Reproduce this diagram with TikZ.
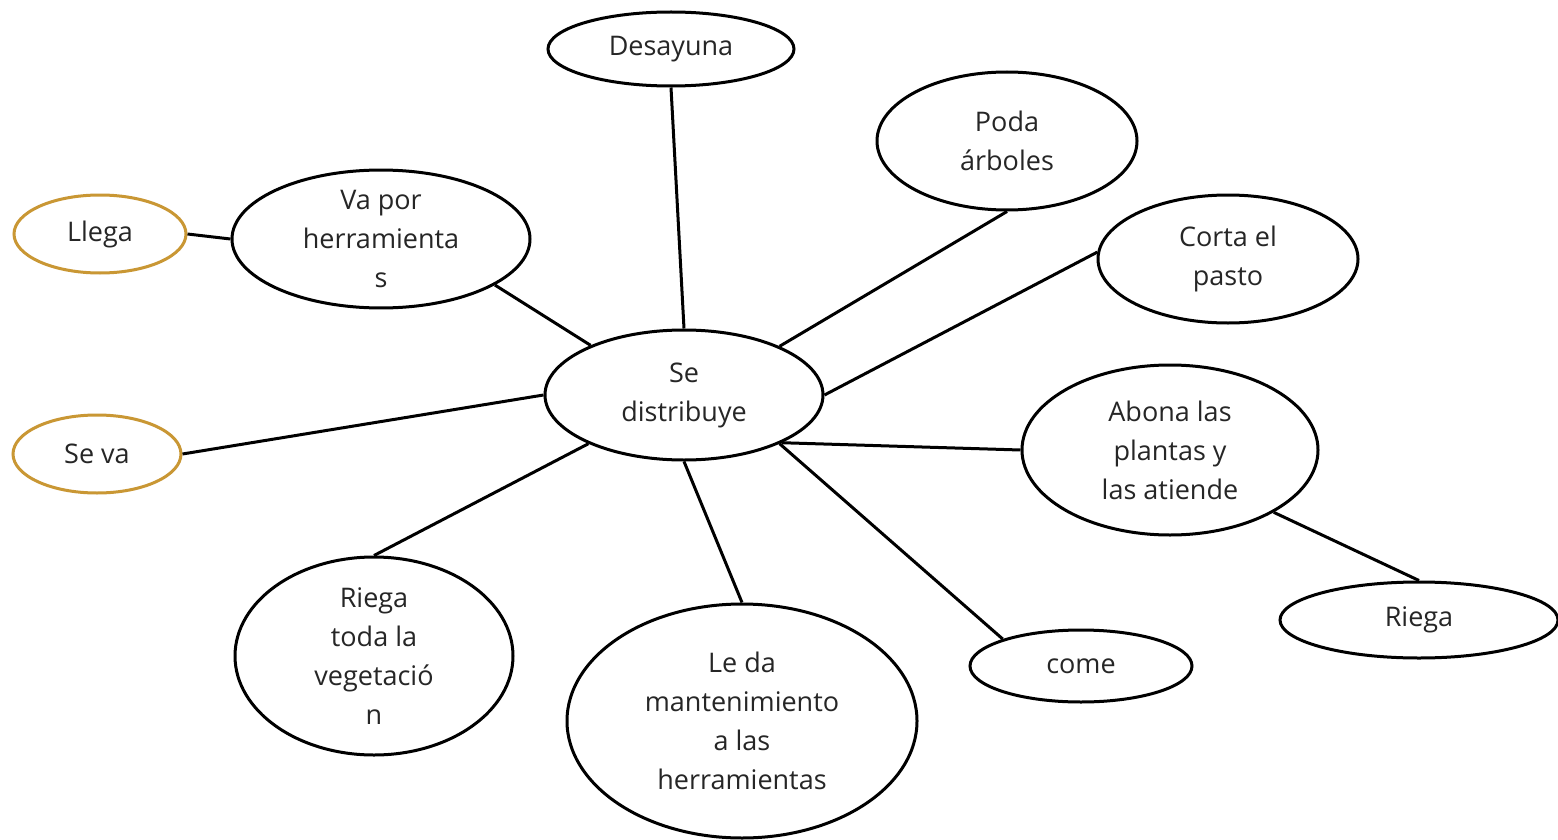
\documentclass[tikz,border=0pt]{standalone}
\usepackage{fontspec}
\setmainfont{Open Sans}
\usetikzlibrary{shapes.geometric}
\definecolor{gold}{RGB}{201,151,52}
\tikzset{
  bubble/.style={ellipse, draw=black, line width=3pt, fill=white, inner sep=0pt,
    align=center, font=\fontsize{27}{39}\selectfont, text=black!85},
  goldbubble/.style={bubble, draw=gold},
  link/.style={line width=3pt, draw=black}
}
\begin{document}
\begin{tikzpicture}[x=1pt,y=-1pt]
\useasboundingbox[fill=white] (0,0) rectangle (1558,840);
% nodes
\node[bubble, minimum width=278pt, minimum height=130pt] (se) at (684,395) {Se\\distribuye};
\node[bubble, minimum width=246pt, minimum height=74pt] (des) at (671,49) {Desayuna};
\node[bubble, minimum width=260pt, minimum height=138pt] (poda) at (1007,141) {Poda\\árboles};
\node[bubble, minimum width=260pt, minimum height=128pt] (corta) at (1228,259) {Corta el\\pasto};
\node[bubble, minimum width=298pt, minimum height=122pt] (va) at (381,239) {Va por\\herramienta\\s};
\node[goldbubble, minimum width=172pt, minimum height=78pt] (llega) at (100,234) {Llega};
\node[goldbubble, minimum width=168pt, minimum height=78pt] (seva) at (97,454) {Se va};
\node[bubble, minimum width=296pt, minimum height=170pt] (abona) at (1170,450) {Abona las\\plantas y\\las atiende};
\node[bubble, minimum width=278pt, minimum height=76pt] (riega) at (1419,620) {Riega};
\node[bubble, minimum width=222pt, minimum height=72pt] (come) at (1081,666) {come};
\node[bubble, minimum width=278pt, minimum height=198pt] (riegatoda) at (374,656) {Riega\\toda la\\vegetació\\n};
\node[bubble, minimum width=350pt, minimum height=234pt] (leda) at (742,721) {Le da\\mantenimiento\\a las\\herramientas};
% connectors
\draw[link] (des.south) -- (se.north);
\draw[link] (va.-22) -- (se.152);
\draw[link] (llega.east) -- (va.west);
\draw[link] (seva.east) -- (se.west);
\draw[link] (poda.south) -- (se.27);
\draw[link] (corta.177) -- (se.east);
\draw[link] (abona.west) -- (se.-26);
\draw[link] (se.-27) -- (come.161);
\draw[link] (se.south) -- (leda.north);
\draw[link] (se.207) -- (riegatoda.north);
\draw[link] (abona.-31) -- (riega.north);
\end{tikzpicture}
\end{document}
